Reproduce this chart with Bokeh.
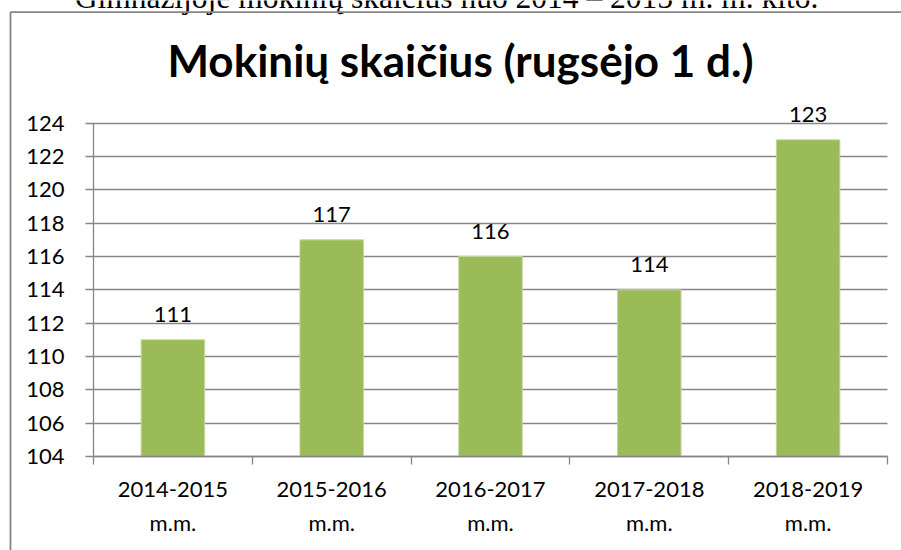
from bokeh.plotting import figure
from bokeh.models import (Range1d, FixedTicker, ColumnDataSource, LabelSet, Label,
                          LinearAxis, BoxAnnotation)
from bokeh.core.properties import value
from bokeh.embed import file_html
from bokeh.resources import INLINE

# ---- data ----
categories = ["2014-2015\nm.m.", "2015-2016\nm.m.", "2016-2017\nm.m.",
              "2017-2018\nm.m.", "2018-2019\nm.m."]
students = [111, 117, 116, 114, 123]
y_ticks = [104, 106, 108, 110, 112, 114, 116, 118, 120, 122, 124]
title_text = "Mokinių skaičius (rugsėjo 1 d.)"
top_text = "Gimnazijoje mokinių skaičius nuo 2014 – 2015 m. m. kito."

GRAY = "#868686"
GREEN = "#9BBB59"

n = len(categories)
centers = [i + 0.5 for i in range(n)]
bounds = [float(i) for i in range(n + 1)]
y_min, y_max = y_ticks[0], y_ticks[-1]

# The frame covers the whole canvas; the axes sit at fixed data locations inside it,
# so the title, the cut-off sentence and the outer box are never clipped.
p = figure(width=901, height=550,
           x_range=Range1d(-0.5856, 5.0882), y_range=Range1d(98.36, 131.36),
           x_axis_location=None, y_axis_location=None,
           output_backend="svg", toolbar_location=None,
           min_border_left=0, min_border_right=0, min_border_top=0, min_border_bottom=0)
p.outline_line_color = None
p.background_fill_color = "white"
p.border_fill_color = "white"
p.grid.grid_line_color = None

src = ColumnDataSource(dict(x=centers, top=students, label=[str(v) for v in students]))
p.vbar(x="x", top="top", bottom=y_min, width=0.4, source=src,
       fill_color=GREEN, line_color="#C3D69B", line_width=1)

# y axis at x=0; its long inward ticks form the horizontal grid lines behind the bars
ya = LinearAxis(fixed_location=0, bounds=(y_min, y_max),
                ticker=FixedTicker(ticks=y_ticks, minor_ticks=[]),
                level="underlay",
                major_tick_out=8, major_tick_in=794,
                minor_tick_out=0, minor_tick_in=0,
                major_tick_line_color=GRAY, major_tick_line_width=1.3,
                axis_line_color=GRAY, axis_line_width=1.3,
                major_label_text_font="Lato", major_label_text_font_size="22px",
                major_label_text_color="black", major_label_standoff=21)
p.add_layout(ya, "left")

# x axis at y=104: labels at category centres, tick marks at category boundaries
xa = LinearAxis(fixed_location=y_min, bounds=(0, n),
                ticker=FixedTicker(ticks=centers, minor_ticks=bounds),
                major_label_overrides={c: lab for c, lab in zip(centers, categories)},
                major_tick_out=0, major_tick_in=0,
                minor_tick_out=8, minor_tick_in=0,
                minor_tick_line_color=GRAY, minor_tick_line_width=1.3,
                axis_line_color=GRAY, axis_line_width=1.3,
                major_label_text_font="Lato", major_label_text_font_size="22px",
                major_label_text_color="black", major_label_text_line_height=1.27,
                major_label_standoff=10)
p.add_layout(xa, "below")

# value labels
p.add_layout(LabelSet(x="x", y="top", text="label", source=src, text_align="center",
                      text_baseline="alphabetic", y_offset=17.6,
                      text_font=value("Lato"), text_font_size=value("22px"),
                      text_color="black"))

# chart title
p.add_layout(Label(x=2.311, y=127.79, text=title_text, text_align="center",
                   text_baseline="alphabetic", text_font="Lato", text_font_style="bold",
                   text_font_size="44px", text_color="black"))

# cut-off sentence above the chart
top_pos = 2.223
ta = LinearAxis(ticker=FixedTicker(ticks=[top_pos], minor_ticks=[]),
                fixed_location=130.52,
                major_label_overrides={top_pos: top_text},
                axis_line_color=None, major_tick_line_color=None,
                minor_tick_line_color=None,
                major_tick_out=0, major_tick_in=0, minor_tick_out=0, minor_tick_in=0,
                major_label_standoff=0,
                major_label_text_font="Liberation Serif",
                major_label_text_font_size="31.5px",
                major_label_text_color="black")
p.add_layout(ta, "above")

# outer chart box (its right and bottom edges lie outside the picture)
p.add_layout(BoxAnnotation(left=-0.5227, right=6, top=130.657, bottom=90,
                           fill_color=None, fill_alpha=0, line_color=GRAY,
                           line_alpha=1, line_width=1.8))

open("out.html", "w").write(file_html(p, INLINE))
